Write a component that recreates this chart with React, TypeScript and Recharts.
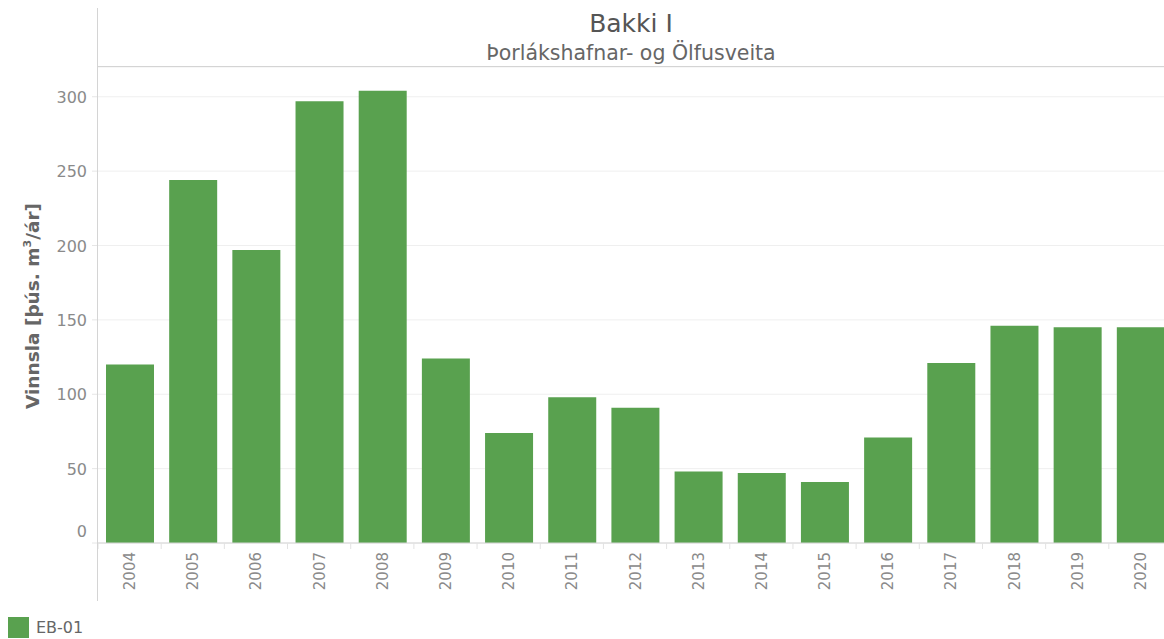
import { BarChart, Bar, XAxis, YAxis, CartesianGrid } from "recharts"

// Yearly production, EB-01 (þús. m³/ár)
const years = ["2004", "2005", "2006", "2007", "2008", "2009", "2010", "2011", "2012", "2013", "2014", "2015", "2016", "2017", "2018", "2019", "2020"]
const eb01 = [120, 244, 197, 297, 304, 124, 74, 98, 91, 48, 47, 41, 71, 121, 146, 145, 145]
const yTicks = [0, 50, 100, 150, 200, 250, 300]

const data = years.map((year, i) => ({ year, value: eb01[i] }))

const FONT = "'DejaVu Sans', 'Noto Sans', sans-serif"
const GREEN = "#59a14f"
const PLOT_W = 1074
const BAND = PLOT_W / years.length

const XTick = (props: any) => {
  const { x, y, payload } = props
  return (
    <g>
      <line x1={x - BAND / 2} x2={x - BAND / 2} y1={y} y2={y + 6} stroke="#e2e2e2" />
      <text
        x={0}
        y={0}
        transform={`translate(${x + 5.5}, ${y + 9}) rotate(-90)`}
        textAnchor="end"
        fontSize={15}
        fill="#8a8a8a"
        fontFamily={FONT}
      >
        {payload.value}
      </text>
    </g>
  )
}

const YTick = (props: any) => {
  const { y, payload } = props
  const ty = payload.value === 0 ? y - 12 : y
  return (
    <g>
      <line x1={92} x2={98} y1={y} y2={y} stroke="#e6e6e6" />
      <text x={87} y={ty + 6} textAnchor="end" fontSize={16} fill="#8a8a8a" fontFamily={FONT}>
        {payload.value}
      </text>
    </g>
  )
}

export default function App() {
  return (
    <div style={{ position: "absolute", left: 0, top: 0, width: 1164, height: 639, overflow: "hidden", background: "#fff", fontFamily: FONT }}>
      <BarChart width={1164} height={639} data={data} margin={{ top: 67, right: 1164 - 98 - PLOT_W, bottom: 38, left: 0 }}>
        <CartesianGrid horizontal vertical={false} stroke="#efefef" />
        <XAxis
          dataKey="year"
          height={58}
          interval={0}
          tickLine={false}
          tickSize={0}
          tickMargin={0}
          axisLine={{ stroke: "#d4d4d4" }}
          tick={<XTick />}
        />
        <YAxis
          width={98}
          domain={[0, 320]}
          ticks={yTicks}
          axisLine={false}
          tickLine={false}
          tickSize={0}
          tickMargin={0}
          tick={<YTick />}
        />
        <Bar dataKey="value" fill={GREEN} barSize={48} isAnimationActive={false} />
      </BarChart>

      {/* left axis rule */}
      <div style={{ position: "absolute", left: 97, top: 8, width: 1, height: 593, background: "#d4d4d4" }} />
      {/* header rule */}
      <div style={{ position: "absolute", left: 98, top: 66, width: 1066, height: 1, background: "#d4d4d4" }} />

      <div style={{ position: "absolute", left: 98, top: 8, width: 1066, textAlign: "center", color: "#555", fontSize: 25, lineHeight: "32px" }}>
        Bakki I
      </div>
      <div style={{ position: "absolute", left: 98, top: 40, width: 1066, textAlign: "center", color: "#666", fontSize: 20.5, lineHeight: "26px" }}>
        Þorlákshafnar- og Ölfusveita
      </div>

      <div
        style={{
          position: "absolute",
          left: 32,
          top: 306,
          transform: "translate(-50%, -50%) rotate(-90deg)",
          whiteSpace: "nowrap",
          fontWeight: 700,
          fontSize: 18.5,
          color: "#666",
        }}
      >
        Vinnsla [þús. m<sup style={{ fontSize: 11 }}>3</sup>/ár]
      </div>

      <div style={{ position: "absolute", left: 8, top: 617, width: 21, height: 21, background: GREEN }} />
      <div style={{ position: "absolute", left: 36, top: 617, fontSize: 16, lineHeight: "22px", color: "#666" }}>EB-01</div>
    </div>
  )
}
